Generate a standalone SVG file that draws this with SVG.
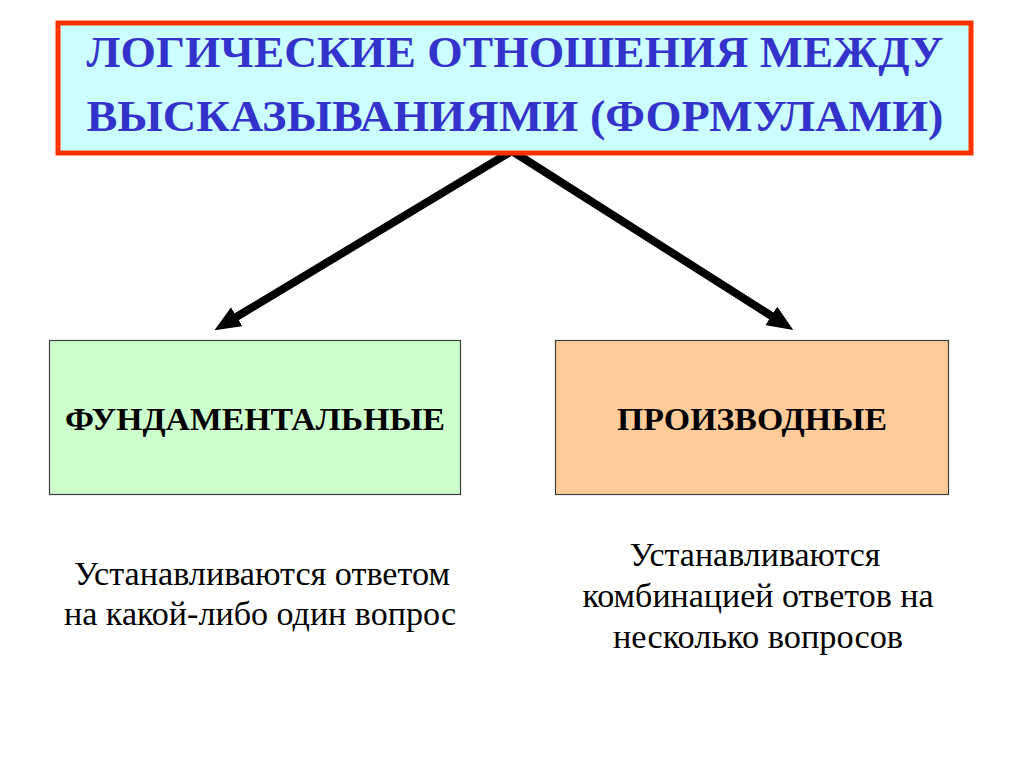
<svg xmlns="http://www.w3.org/2000/svg" width="1024" height="767" viewBox="0 0 1024 767">
  <style>
    .title { font-family: "Liberation Serif", "DejaVu Serif", serif; font-weight: bold; font-size: 44px; fill: #3333CC; }
    .label { font-family: "Liberation Serif", "DejaVu Serif", serif; font-weight: bold; font-size: 31px; fill: #000000; }
    .desc { font-family: "Liberation Serif", "DejaVu Serif", serif; font-size: 33px; fill: #000000; }
    .conn { stroke: #000000; stroke-width: 8; fill: none; }
  </style>
  <defs>
    <marker id="arrow" viewBox="0 0 26 22" refX="2" refY="11" markerWidth="26" markerHeight="22" markerUnits="userSpaceOnUse" orient="auto">
      <path d="M0,0 L26,11 L0,22 z" fill="#000000"/>
    </marker>
  </defs>
  <rect x="0" y="0" width="1024" height="767" fill="#FFFFFF"/>

  <g id="connectors">
    <line class="conn" x1="512" y1="151" x2="235" y2="317.8" marker-end="url(#arrow)"/>
    <line class="conn" x1="512" y1="151" x2="773" y2="317" marker-end="url(#arrow)"/>
  </g>

  <g id="title">
    <rect x="58" y="23" width="913" height="130" fill="#CCFFFF" stroke="#FF3300" stroke-width="5"/>
    <text class="title" x="515" y="67" text-anchor="middle" textLength="857" lengthAdjust="spacingAndGlyphs">ЛОГИЧЕСКИЕ ОТНОШЕНИЯ МЕЖДУ</text>
    <text class="title" x="515" y="131" text-anchor="middle" textLength="857" lengthAdjust="spacingAndGlyphs">ВЫСКАЗЫВАНИЯМИ (ФОРМУЛАМИ)</text>
  </g>

  <g id="fundamental">
    <rect x="49.5" y="340.5" width="411" height="154" fill="#CCFFCC" stroke="#404040" stroke-width="1.2"/>
    <text class="label" x="255" y="430" text-anchor="middle" textLength="380" lengthAdjust="spacingAndGlyphs">ФУНДАМЕНТАЛЬНЫЕ</text>
  </g>

  <g id="derived">
    <rect x="555.5" y="340.5" width="393" height="154" fill="#FFCC99" stroke="#404040" stroke-width="1.2"/>
    <text class="label" x="752" y="430" text-anchor="middle" textLength="270" lengthAdjust="spacingAndGlyphs">ПРОИЗВОДНЫЕ</text>
  </g>

  <g id="fundamental-desc">
    <text class="desc" x="262" y="585" text-anchor="middle" textLength="376" lengthAdjust="spacingAndGlyphs">Устанавливаются ответом</text>
    <text class="desc" x="260" y="625" text-anchor="middle" textLength="392" lengthAdjust="spacingAndGlyphs">на какой-либо один вопрос</text>
  </g>

  <g id="derived-desc">
    <text class="desc" x="755" y="566" text-anchor="middle" textLength="251" lengthAdjust="spacingAndGlyphs">Устанавливаются</text>
    <text class="desc" x="758" y="607" text-anchor="middle" textLength="351" lengthAdjust="spacingAndGlyphs">комбинацией ответов на</text>
    <text class="desc" x="758" y="648" text-anchor="middle" textLength="290" lengthAdjust="spacingAndGlyphs">несколько вопросов</text>
  </g>
</svg>
